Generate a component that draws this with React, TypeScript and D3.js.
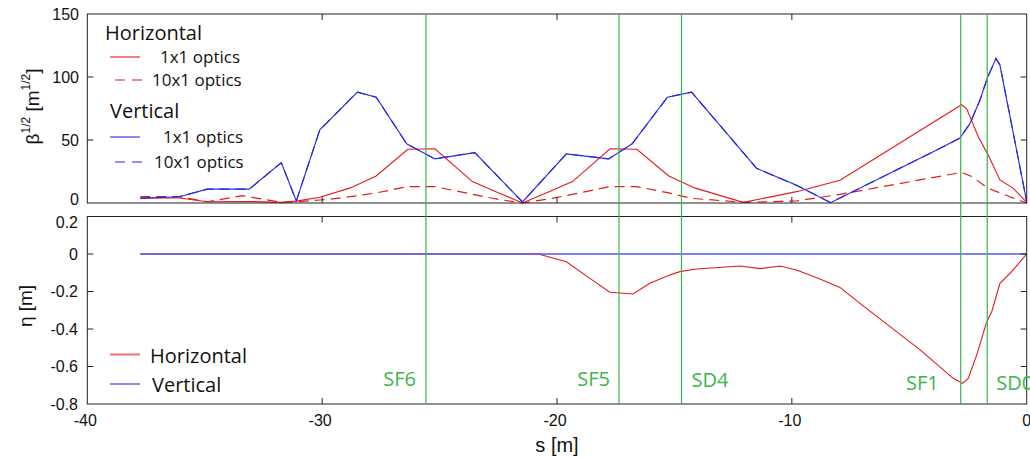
import React from "react";
import * as d3 from "d3";

// ---- data ----
const sDomain = [-40, 0];
const betaTicks = [0, 50, 100, 150];
const etaTicks = [0.2, 0, -0.2, -0.4, -0.6, -0.8];
const sTicks = [-40, -30, -20, -10, 0];

// sqrt(beta) horizontal, 1x1 optics  [s, value]
const betaH1: [number, number][] = [
  [-37.74, 4], [-36.07, 4], [-34.9, 1], [-33.1, 1.2], [-31.74, 0.5], [-31.1, 1.5],
  [-30.1, 4.5], [-28.8, 12], [-27.7, 21.5], [-26.35, 42.6], [-25.2, 43], [-23.6, 17],
  [-22.6, 9], [-21.47, 0], [-20.34, 9], [-19.34, 17], [-17.74, 43], [-16.6, 42.6],
  [-15.24, 21.5], [-14.14, 12], [-12.07, 0.5], [-9.8, 9], [-7.95, 18], [-2.77, 78],
  [-2.56, 75], [-2.06, 52.6], [-1.64, 38], [-1.14, 18.3], [-0.57, 11.6], [0, 0.5],
];
// sqrt(beta) horizontal, 10x1 optics
const betaH10: [number, number][] = [
  [-37.74, 5], [-36.07, 5], [-34.9, 1], [-33.4, 5.8], [-31.74, 0.5], [-31.1, 1],
  [-30.1, 2.4], [-29.7, 3], [-28.8, 5], [-27.7, 8], [-26.35, 13], [-25.2, 13],
  [-23.6, 6.9], [-22.6, 3.2], [-21.47, 0], [-20.34, 3.2], [-19.34, 6.9], [-17.74, 13],
  [-16.6, 13], [-15.24, 8], [-14.27, 3.7], [-12.07, 0.5], [-9.8, 1.6], [-7.95, 6.9],
  [-2.77, 24.3], [-2.34, 21], [-1.64, 11.6], [-0.72, 5], [0, 0],
];
// sqrt(beta) vertical, 1x1 optics
const betaV1: [number, number][] = [
  [-37.74, 3.7], [-36.07, 5], [-34.9, 11], [-33.1, 11], [-31.74, 32], [-31.1, 1.6],
  [-30.1, 58], [-28.5, 88], [-27.7, 84], [-26.4, 47], [-25.2, 35], [-23.5, 40],
  [-21.47, 0.8], [-19.6, 39], [-17.8, 35], [-16.8, 47], [-15.3, 84], [-14.27, 88],
  [-11.5, 27.5], [-9.8, 14], [-8.35, 0.3], [-3.98, 40.7], [-2.84, 51.5], [-2.42, 63],
  [-1.99, 81.7], [-1.68, 99], [-1.31, 114.8], [-1.14, 109.5], [-0.07, 7.7], [0, 1],
];
// sqrt(beta) vertical, 10x1 optics (same as 1x1)
const betaV10: [number, number][] = betaV1.map((d) => [d[0], d[1]]);

// dispersion
const etaH: [number, number][] = [
  [-37.74, 0], [-20.8, 0], [-19.6, -0.041], [-18.6, -0.13], [-17.75, -0.204],
  [-16.76, -0.213], [-16.05, -0.156], [-15.2, -0.112], [-14.77, -0.094], [-14.06, -0.08],
  [-12.2, -0.064], [-11.36, -0.078], [-10.5, -0.064], [-9.8, -0.085], [-8.8, -0.133],
  [-7.95, -0.178], [-7.1, -0.263], [-4.55, -0.51], [-3.13, -0.663], [-2.73, -0.69],
  [-2.49, -0.663], [-2.13, -0.539], [-1.7, -0.361], [-1.49, -0.308], [-1.14, -0.156],
  [-0.64, -0.094], [0, 0],
];
const etaV: [number, number][] = [[-37.74, 0], [0, 0]];

const magnetNames = ["SF6", "SF5", "SD4", "SF1", "SD0"];
const magnetS = [-25.58, -17.36, -14.7, -2.81, -1.68];

// ---- styles ----
const RED = "#e41a1c";
const BLUE = "#2a2ae0";
const GREEN = "#3cb54a";
const AXIS = "#222";
const TICKFONT = "'Liberation Sans', Arial, sans-serif";
const TEXTFONT = "'Open Sans', 'Noto Sans', sans-serif";

export default function App() {
  const W = 1030, H = 457;
  const x = d3.scaleLinear().domain(sDomain).range([87.3, 1026.7]);
  const yT = d3.scaleLinear().domain([0, 150]).range([203, 14]);
  const yB = d3.scaleLinear().domain([-0.8, 0.2]).range([404, 216.5]);

  const lineT = d3.line<[number, number]>().x((d) => x(d[0])).y((d) => yT(d[1]));
  const lineB = d3.line<[number, number]>().x((d) => x(d[0])).y((d) => yB(d[1]));

  const xl = x(sDomain[0]), xr = x(sDomain[1]);
  const tickLen = 6;
  const innerS = sTicks.filter((t) => t !== sDomain[0] && t !== sDomain[1]);
  const innerBeta = betaTicks.filter((t) => t !== 0 && t !== 150);
  const innerEta = etaTicks.filter((t) => t !== 0.2 && t !== -0.8);

  const labelStyle = [
    { anchor: "end", dx: -10, y: 386 },
    { anchor: "end", dx: -9, y: 386 },
    { anchor: "start", dx: 10, y: 387 },
    { anchor: "end", dx: -22, y: 390 },
    { anchor: "start", dx: 9, y: 390 },
  ];
  // small vertical nudges of edge labels so the two panels' labels don't collide
  const betaNudge = (t: number) => (t === 0 ? -4 : 0);
  const etaNudge = (t: number) => (t === 0.2 ? 6 : 0);

  return (
    <svg width={W} height={H} style={{ position: "absolute", left: 0, top: 0, background: "#fff" }}>
      {/* top panel data */}
      <g fill="none">
        <path d={lineT(betaH10) || ""} stroke={RED} strokeWidth={1.2} strokeDasharray="10,6" />
        <path d={lineT(betaH1) || ""} stroke={RED} strokeWidth={1.1} />
        <path d={lineT(betaV1) || ""} stroke={BLUE} strokeWidth={1.1} />
        <path d={lineT(betaV10) || ""} stroke={BLUE} strokeWidth={1.2} strokeDasharray="10,6" />
      </g>
      {/* bottom panel data */}
      <g fill="none">
        <path d={lineB(etaH) || ""} stroke={RED} strokeWidth={1.1} />
        <path d={lineB(etaV) || ""} stroke="#5555e8" strokeWidth={1.4} />
      </g>

      {/* frames */}
      <rect x={xl} y={yT(150)} width={xr - xl} height={yT(0) - yT(150)} fill="none" stroke={AXIS} strokeWidth={1} />
      <rect x={xl} y={yB(0.2)} width={xr - xl} height={yB(-0.8) - yB(0.2)} fill="none" stroke={AXIS} strokeWidth={1} />

      {/* ticks */}
      <g stroke={AXIS} strokeWidth={1}>
        {innerS.map((t) => (
          <g key={"ts" + t}>
            <line x1={x(t)} x2={x(t)} y1={yT(150)} y2={yT(150) + tickLen} />
            <line x1={x(t)} x2={x(t)} y1={yT(0)} y2={yT(0) - tickLen} />
            <line x1={x(t)} x2={x(t)} y1={yB(0.2)} y2={yB(0.2) + tickLen} />
            <line x1={x(t)} x2={x(t)} y1={yB(-0.8)} y2={yB(-0.8) - tickLen} />
          </g>
        ))}
        {innerBeta.map((t) => (
          <g key={"tb" + t}>
            <line x1={xl} x2={xl + tickLen} y1={yT(t)} y2={yT(t)} />
            <line x1={xr} x2={xr - tickLen} y1={yT(t)} y2={yT(t)} />
          </g>
        ))}
        {innerEta.map((t) => (
          <g key={"te" + t}>
            <line x1={xl} x2={xl + tickLen} y1={yB(t)} y2={yB(t)} />
            <line x1={xr} x2={xr - tickLen} y1={yB(t)} y2={yB(t)} />
          </g>
        ))}
      </g>

      {/* magnet lines */}
      <g stroke={GREEN} strokeWidth={1.2}>
        {magnetS.map((s, i) => (
          <line key={magnetNames[i]} x1={x(s)} x2={x(s)} y1={yT(150)} y2={yB(-0.8)} />
        ))}
      </g>
      <g fill={GREEN} fontFamily={TEXTFONT} fontSize={20}>
        {magnetS.map((s, i) => (
          <text key={"l" + magnetNames[i]} x={x(s) + labelStyle[i].dx} y={labelStyle[i].y} textAnchor={labelStyle[i].anchor as any}>
            {magnetNames[i]}
          </text>
        ))}
      </g>

      {/* tick labels */}
      <g fontFamily={TICKFONT} fontSize={16} fill="#111">
        {betaTicks.map((t) => (
          <text key={"lb" + t} x={79} y={yT(t) + 5.5 + betaNudge(t)} textAnchor="end">{t}</text>
        ))}
        {etaTicks.map((t) => (
          <text key={"le" + t} x={78} y={yB(t) + 5.5 + etaNudge(t)} textAnchor="end">{t === 0 ? "0" : d3.format(".1f")(t).replace("−", "-")}</text>
        ))}
        {sTicks.map((t) => (
          <text key={"ls" + t} x={x(t) - (t < 0 ? 2 : 0)} y={426} textAnchor="middle">{t}</text>
        ))}
      </g>

      {/* axis labels */}
      <g fontFamily={TICKFONT} fill="#111">
        <text x={557} y={452} fontSize={20} textAnchor="middle">s [m]</text>
        <text transform="translate(39,106.5) rotate(-90)" fontSize={19} textAnchor="middle">
          β<tspan fontSize={12} dy={-9}>1/2</tspan>
          <tspan dy={9}> [m</tspan>
          <tspan fontSize={12} dy={-9}>1/2</tspan>
          <tspan dy={9}>]</tspan>
        </text>
        <text transform="translate(32,306) rotate(-90)" fontSize={19} textAnchor="middle">η [m]</text>
      </g>

      {/* top legend */}
      <g fontFamily={TEXTFONT} fill="#111">
        <text x={105} y={40} fontSize={20}>Horizontal</text>
        <line x1={110} x2={140} y1={57} y2={57} stroke={RED} strokeWidth={1.1} />
        <text x={160} y={63} fontSize={17}>1x1 optics</text>
        <line x1={115} x2={142} y1={80} y2={80} stroke={RED} strokeWidth={1.2} strokeDasharray="10,7" />
        <text x={152} y={86} fontSize={17}>10x1 optics</text>
        <text x={110} y={118} fontSize={20}>Vertical</text>
        <line x1={110} x2={140} y1={137} y2={137} stroke={BLUE} strokeWidth={1.1} />
        <text x={163} y={143} fontSize={17}>1x1 optics</text>
        <line x1={115} x2={142} y1={162} y2={162} stroke={BLUE} strokeWidth={1.2} strokeDasharray="10,7" />
        <text x={154} y={168} fontSize={17}>10x1 optics</text>
      </g>

      {/* bottom legend */}
      <g fontFamily={TEXTFONT} fill="#111" fontSize={20}>
        <line x1={110} x2={140} y1={354.5} y2={354.5} stroke="#f07070" strokeWidth={2} />
        <text x={150} y={363} >Horizontal</text>
        <line x1={110} x2={140} y1={384} y2={384} stroke={BLUE} strokeWidth={1.1} />
        <text x={152} y={392}>Vertical</text>
      </g>
    </svg>
  );
}
